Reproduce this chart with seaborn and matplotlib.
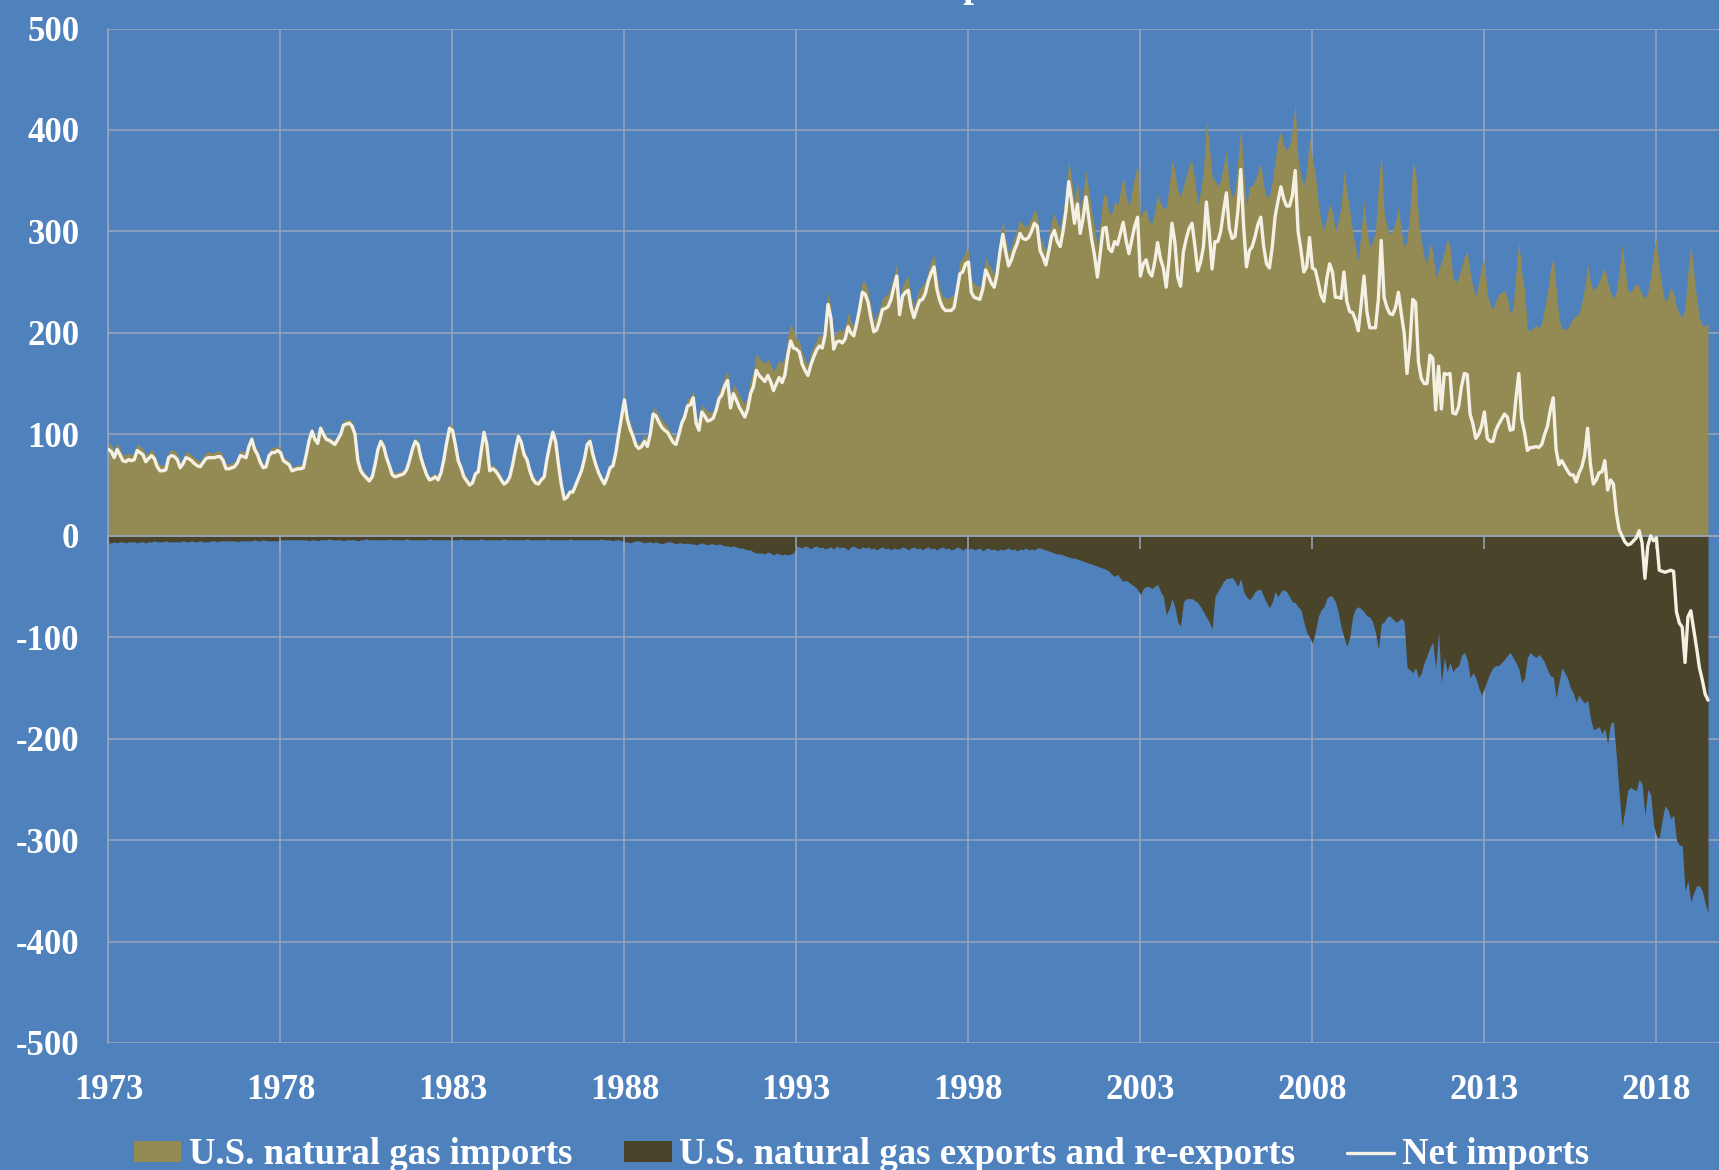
import numpy as np
import pandas as pd
import matplotlib
matplotlib.use("Agg")
import matplotlib.pyplot as plt
import seaborn as sns

# Monthly values, Jan 1973 - Jul 2019 (one row per year)
imports = [
    92, 90, 83, 92, 86, 80, 80, 81, 80, 81, 91, 88,            # 1973
    86, 80, 82, 85, 81, 74, 70, 70, 70, 83, 85, 84,            # 1974
    81, 73, 76, 83, 82, 79, 77, 75, 73, 78, 82, 83,            # 1975
    82, 82, 84, 83, 79, 71, 71, 72, 73, 78, 84, 83,            # 1976
    82, 93, 100, 89, 85, 77, 71, 73, 84, 87, 87, 89,           # 1977
    86, 78, 76, 74, 68, 69, 70, 70, 71, 84, 99, 107,           # 1978
    99, 96, 110, 104, 99, 97, 96, 94, 99, 104, 114, 114,       # 1979
    115, 112, 104, 79, 68, 64, 60, 58, 62, 74, 89, 97,         # 1980
    92, 81, 72, 64, 62, 63, 64, 65, 68, 78, 89, 97,            # 1981
    94, 81, 72, 64, 58, 60, 62, 59, 66, 79, 96, 110,           # 1982
    108, 94, 78, 70, 62, 58, 54, 56, 65, 67, 86, 106,          # 1983
    94, 68, 70, 68, 64, 59, 54, 57, 62, 74, 89, 102,           # 1984
    96, 84, 78, 68, 60, 56, 55, 59, 62, 79, 94, 106,           # 1985
    97, 74, 54, 40, 42, 46, 47, 54, 61, 68, 79, 94,            # 1986
    97, 84, 74, 66, 59, 55, 62, 71, 74, 86, 104, 122,          # 1987
    140, 121, 112, 104, 94, 91, 94, 100, 94, 106, 127, 124,    # 1988
    119, 115, 111, 108, 103, 99, 98, 107, 118, 125, 135, 137,  # 1989
    144, 120, 112, 129, 126, 122, 122, 124, 133, 143, 148, 158,  # 1990
    163, 137, 150, 145, 139, 134, 130, 139, 154, 163, 180, 175,  # 1991
    172, 170, 174, 169, 162, 167, 174, 170, 177, 197, 210, 202,  # 1992
    194, 192, 181, 173, 169, 181, 187, 193, 199, 196, 211, 240,  # 1993
    226, 197, 201, 204, 201, 206, 220, 211, 207, 221, 236, 251,  # 1994
    250, 241, 227, 213, 217, 224, 234, 237, 238, 247, 257, 269,  # 1995
    231, 247, 252, 256, 237, 226, 237, 244, 247, 251, 262, 272,  # 1996
    277, 257, 244, 236, 235, 234, 236, 238, 252, 270, 274, 280,  # 1997
    283, 252, 249, 247, 245, 258, 275, 268, 263, 258, 273, 293,  # 1998
    311, 293, 278, 286, 294, 303, 311, 307, 304, 308, 313, 322,  # 1999
    317, 293, 288, 281, 295, 311, 318, 308, 303, 319, 340, 370,  # 2000
    352, 330, 350, 322, 338, 360, 340, 320, 305, 285, 310, 335,  # 2001
    337, 318, 318, 330, 325, 340, 354, 335, 324, 340, 355, 367,  # 2002
    314, 320, 322, 310, 308, 320, 337, 328, 324, 323, 345, 370,  # 2003
    360, 340, 335, 345, 355, 365, 370, 350, 327, 340, 360, 409,  # 2004
    385, 355, 350, 345, 350, 365, 380, 345, 334, 340, 370, 403,  # 2005
    360, 325, 344, 345, 350, 360, 367, 345, 334, 335, 350, 370,  # 2006
    390, 399, 385, 380, 385, 400, 426, 370, 355, 345, 360, 394,  # 2007
    370, 357, 330, 310, 301, 315, 327, 320, 300, 310, 324, 360,  # 2008
    340, 321, 300, 285, 272, 300, 331, 300, 285, 290, 300, 345,  # 2009
    378, 320, 305, 298, 300, 310, 324, 300, 285, 290, 320, 368,  # 2010
    360, 311, 290, 275, 268, 288, 280, 255, 262, 270, 280, 293,  # 2011
    285, 255, 250, 255, 265, 275, 281, 260, 245, 236, 250, 265,  # 2012
    272, 238, 228, 223, 232, 238, 240, 242, 235, 219, 225, 260,  # 2013
    291, 260, 242, 204, 202, 205, 208, 204, 210, 225, 240, 262,  # 2014
    275, 245, 215, 204, 204, 204, 210, 215, 217, 219, 230, 245,  # 2015
    268, 250, 242, 245, 250, 258, 264, 250, 240, 234, 240, 260,  # 2016
    287, 264, 242, 240, 245, 249, 245, 238, 234, 240, 255, 280,  # 2017
    294, 264, 245, 230, 235, 245, 240, 225, 219, 215, 225, 260,  # 2018
    287, 260, 235, 215, 208, 206, 210,                           # 2019
]

exports = [
    -7, -7, -6, -7, -6, -6, -7, -6, -6, -6, -7, -6,            # 1973
    -6, -7, -6, -6, -5, -6, -6, -6, -5, -6, -6, -6,            # 1974
    -6, -6, -5, -6, -6, -5, -6, -6, -5, -6, -6, -6,            # 1975
    -5, -5, -6, -5, -5, -5, -5, -5, -5, -6, -5, -5,            # 1976
    -5, -5, -5, -4, -5, -5, -4, -5, -5, -5, -5, -5,            # 1977
    -4, -4, -4, -4, -4, -4, -4, -4, -4, -4, -5, -4,            # 1978
    -4, -5, -4, -4, -4, -3, -4, -4, -4, -4, -5, -4,            # 1979
    -4, -4, -4, -5, -4, -4, -3, -4, -4, -4, -4, -4,            # 1980
    -4, -4, -3, -4, -4, -4, -4, -4, -3, -4, -4, -4,            # 1981
    -4, -4, -4, -4, -3, -4, -4, -4, -4, -4, -4, -4,            # 1982
    -4, -4, -4, -3, -4, -4, -4, -4, -4, -4, -3, -4,            # 1983
    -4, -4, -4, -4, -4, -4, -3, -4, -4, -4, -4, -4,            # 1984
    -4, -4, -3, -4, -4, -4, -4, -4, -4, -3, -4, -4,            # 1985
    -4, -4, -4, -4, -4, -3, -4, -4, -4, -4, -4, -4,            # 1986
    -4, -4, -4, -4, -3, -4, -4, -4, -5, -4, -4, -5,            # 1987
    -6, -6, -7, -6, -5, -5, -6, -7, -6, -6, -7, -6,            # 1988
    -7, -8, -7, -6, -6, -7, -8, -7, -7, -8, -7, -8,            # 1989
    -8, -9, -8, -7, -8, -9, -8, -8, -9, -8, -9, -10,           # 1990
    -10, -11, -10, -11, -12, -12, -13, -14, -14, -16, -17, -17,  # 1991
    -17, -18, -16, -17, -19, -17, -18, -19, -18, -19, -18, -17,  # 1992
    -10, -11, -12, -10, -11, -13, -11, -10, -12, -11, -13, -12,  # 1993
    -11, -13, -10, -12, -11, -12, -14, -11, -10, -12, -13, -11,  # 1994
    -12, -11, -13, -12, -14, -12, -11, -13, -12, -14, -12, -13,  # 1995
    -13, -11, -12, -14, -12, -11, -13, -12, -14, -12, -11, -13,  # 1996
    -12, -14, -12, -11, -13, -12, -14, -13, -11, -12, -14, -12,  # 1997
    -13, -12, -14, -13, -12, -15, -13, -12, -14, -13, -15, -13,  # 1998
    -14, -13, -12, -14, -13, -15, -13, -14, -12, -14, -13, -14,  # 1999
    -12, -12, -13, -14, -15, -16, -17, -18, -18, -19, -20, -21,  # 2000
    -22, -22, -23, -24, -25, -26, -27, -28, -29, -30, -31, -32,  # 2001
    -33, -35, -38, -40, -38, -42, -45, -44, -46, -48, -50, -53,  # 2002
    -58, -52, -50, -50, -52, -50, -48, -55, -60, -78, -72, -62,  # 2003
    -70, -85, -89, -65, -62, -62, -62, -64, -66, -70, -75, -80,  # 2004
    -85, -92, -60, -55, -50, -45, -42, -42, -41, -45, -50, -42,  # 2005
    -55, -60, -63, -60, -55, -53, -53, -60, -66, -71, -65, -55,  # 2006
    -60, -55, -53, -55, -60, -65, -66, -70, -73, -85, -95, -100,  # 2007
    -106, -95, -80, -73, -70, -62, -59, -60, -65, -75, -90, -100,  # 2008
    -109, -100, -80, -72, -70, -72, -75, -79, -80, -85, -95, -112,  # 2009
    -87, -85, -80, -79, -82, -85, -84, -81, -85, -130, -132, -135,  # 2010
    -130, -140, -135, -125, -118, -110, -105, -131, -95, -145, -120, -134,  # 2011
    -125, -134, -130, -128, -118, -115, -122, -140, -135, -140, -150, -157,  # 2012
    -150, -142, -135, -130, -128, -128, -125, -122, -118, -115, -120, -125,  # 2013
    -131, -145, -140, -120, -115, -118, -120, -117, -120, -125, -132, -138,  # 2014
    -139, -160, -145, -130, -135, -140, -150, -155, -164, -157, -162, -165,  # 2015
    -162, -180, -191, -190, -188, -195, -190, -205, -185, -183, -217, -254,  # 2016
    -287, -270, -251, -248, -250, -251, -240, -245, -276, -250, -255, -285,  # 2017
    -296, -298, -280, -266, -270, -279, -275, -300, -305, -305, -350, -340,  # 2018
    -361, -352, -345, -345, -350, -362, -372,                                # 2019
]

x_ticks = [1973, 1978, 1983, 1988, 1993, 1998, 2003, 2008, 2013, 2018]
y_ticks = list(range(-500, 501, 100))
legend_labels = ["U.S. natural gas imports",
                 "U.S. natural gas exports and re-exports",
                 "Net imports"]
title_text = "U.S. Natural Gas Net Imports"

BLUE = "#4F81BD"
OLIVE = "#948A54"
DARK = "#4A442B"
CREAM = "#F4F1E4"
GRID = "#9AA6BA"

assert len(imports) == len(exports)
df = pd.DataFrame({"imports": imports, "exports": exports})
df["t"] = 1973 + np.arange(len(df)) / 12
df["net"] = df["imports"] + df["exports"]

sns.set_theme(style="whitegrid")
plt.rcParams["font.family"] = ["Liberation Serif", "DejaVu Serif"]
plt.rcParams["axes.unicode_minus"] = False

fig = plt.figure(figsize=(17.19, 11.70), dpi=100)
fig.patch.set_facecolor(BLUE)
ax = fig.add_axes([0.0631, 0.10855, 0.9369, 0.86709])
ax.set_facecolor(BLUE)

ax.fill_between(df["t"], 0, df["imports"], color=OLIVE, lw=0, zorder=1,
                label=legend_labels[0])
ax.fill_between(df["t"], 0, df["exports"], color=DARK, lw=0, zorder=1,
                label=legend_labels[1])
sns.lineplot(data=df, x="t", y="net", color=CREAM, linewidth=2.4, ax=ax,
             zorder=3, label=legend_labels[2])

ax.set_xlim(1973, 2019.82)
ax.set_ylim(-500, 500)
ax.set_xticks(x_ticks)
ax.set_yticks(y_ticks)
ax.set_xlabel("")
ax.set_ylabel("")
ax.grid(True, color=GRID, linewidth=1.1)
ax.set_axisbelow(True)
for s in ["top", "right", "bottom"]:
    ax.spines[s].set_visible(False)
ax.spines["left"].set_color(GRID)
ax.spines["left"].set_linewidth(1.1)
ax.tick_params(axis="both", length=0, labelsize=25, labelcolor="white")
ax.tick_params(axis="y", pad=21)
ax.tick_params(axis="x", pad=22)
for lab in ax.get_xticklabels() + ax.get_yticklabels():
    lab.set_fontweight("bold")

# zero axis line with small tick marks pointing down
zero_ax = ax.secondary_xaxis(0.4999)
zero_ax.set_xticks(x_ticks)
zero_ax.tick_params(axis="x", length=9, width=1.1, color=GRID,
                    direction="out", labelbottom=False, labeltop=False)
zero_ax.spines["bottom"].set_color(GRID)
zero_ax.spines["bottom"].set_linewidth(1.3)
zero_ax.set_zorder(2.5)

handles, labels = ax.get_legend_handles_labels()
if ax.get_legend() is not None:
    ax.get_legend().remove()
leg = fig.legend(handles, labels, loc="center", bbox_to_anchor=(0.501, 0.013),
                 ncol=3, frameon=False, labelcolor="white",
                 handlelength=1.3, handleheight=0.5, handletextpad=0.2,
                 columnspacing=1.4, prop={"weight": "bold", "size": 26.5})

fig.text(0.323, 1 + 4 / 1170, title_text, ha="left", va="baseline",
         fontsize=28, fontweight="bold", color="white")

fig.savefig("out.png", dpi=100, facecolor=BLUE)
